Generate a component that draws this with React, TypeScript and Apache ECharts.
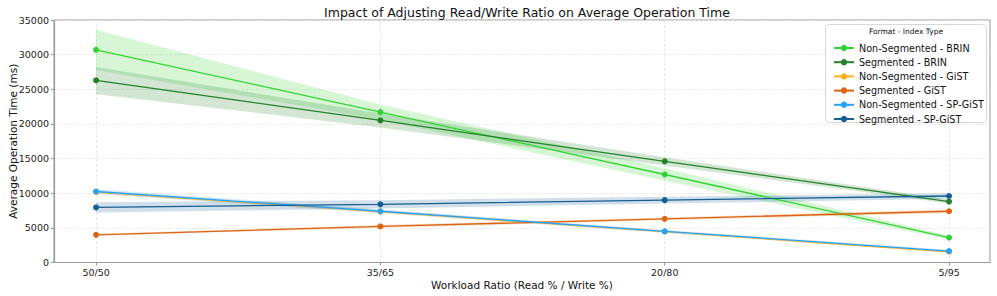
import React, { useEffect, useRef } from "react";
import * as echarts from "echarts";

const categories = ["50/50", "35/65", "20/80", "5/95"];
const seriesNames = [
  "Non-Segmented - BRIN",
  "Segmented - BRIN",
  "Non-Segmented - GiST",
  "Segmented - GiST",
  "Non-Segmented - SP-GiST",
  "Segmented - SP-GiST",
];
const colors = ["#33d233", "#22812a", "#ffb020", "#dd6410", "#25a3ff", "#155f95"];

const nsBrin = [30700, 21700, 12700, 3600];
const nsBrinLow = [27800, 20600, 11800, 3300];
const nsBrinHigh = [33600, 22800, 13600, 3900];

const sBrin = [26300, 20500, 14600, 8800];
const sBrinLow = [24300, 19500, 14000, 8500];
const sBrinHigh = [28200, 21500, 15200, 9100];

const nsGist = [10150, 7350, 4450, 1550];
const nsGistLow = [9900, 7100, 4250, 1400];
const nsGistHigh = [10400, 7600, 4650, 1700];

const sGist = [4000, 5200, 6300, 7400];
const sGistLow = [3850, 5000, 6100, 7150];
const sGistHigh = [4150, 5400, 6500, 7650];

const nsSp = [10250, 7400, 4500, 1650];
const nsSpLow = [9900, 7150, 4300, 1450];
const nsSpHigh = [10600, 7650, 4700, 1850];

const sSp = [7950, 8400, 9000, 9600];
const sSpLow = [7200, 7800, 8500, 9200];
const sSpHigh = [8700, 9000, 9500, 10000];

const values = [nsBrin, sBrin, nsGist, sGist, nsSp, sSp];
const lows = [nsBrinLow, sBrinLow, nsGistLow, sGistLow, nsSpLow, sSpLow];
const highs = [nsBrinHigh, sBrinHigh, nsGistHigh, sGistHigh, nsSpHigh, sSpHigh];

const yTicks = [0, 5000, 10000, 15000, 20000, 25000, 30000, 35000];

const FONT = "DejaVu Sans";

export default function App() {
  const ref = useRef<HTMLDivElement>(null);
  useEffect(() => {
    if (!ref.current) return;
    const chart = echarts.init(ref.current, undefined, { renderer: "svg" });
    const bandSeries: any[] = values.map((_, i) => {
      const data: number[][] = [];
      for (let j = 0; j < categories.length - 1; j++) {
        data.push([j, lows[i][j], highs[i][j], j + 1, lows[i][j + 1], highs[i][j + 1]]);
      }
      return {
        name: "band-" + i,
        type: "custom",
        silent: true,
        z: 1,
        encode: { x: [0, 3], y: [1, 2, 4, 5] },
        data,
        renderItem: (params: any, api: any) => {
          const x0 = api.value(0);
          const x1 = api.value(3);
          const a = api.coord([x0, api.value(1)]);
          const b = api.coord([x0, api.value(2)]);
          const c = api.coord([x1, api.value(5)]);
          const d = api.coord([x1, api.value(4)]);
          return {
            type: "polygon",
            shape: { points: [a, b, c, d] },
            style: { fill: colors[i], opacity: 0.2 },
          };
        },
      };
    });
    const lineSeries = values.map((vals, i) => ({
      name: seriesNames[i],
      type: "line",
      data: vals.map((v, j) => [j, v]),
      symbol: "circle",
      symbolSize: 6,
      itemStyle: { color: colors[i] },
      lineStyle: { color: colors[i], width: 1.3 },
      z: 3,
    }));

    chart.setOption({
      animation: false,
      backgroundColor: "#fff",
      title: {
        text: "Impact of Adjusting Read/Write Ratio on Average Operation Time",
        left: 522,
        textAlign: "center",
        top: 1,
        textStyle: { fontFamily: FONT, fontSize: 12.5, fontWeight: "normal", color: "#111" },
      },
      grid: {
        left: 54,
        right: 7,
        top: 20,
        bottom: 33.5,
        show: true,
        borderColor: "#999",
        borderWidth: 1,
        containLabel: false,
        outerBoundsMode: "none",
      },
      xAxis: {
        type: "value",
        min: -0.148,
        max: 3.144,
        name: "Workload Ratio (Read % / Write %)",
        nameLocation: "middle",
        nameGap: 17,
        nameMoveOverlap: false,
        nameTextStyle: { fontFamily: FONT, fontSize: 10.5, color: "#111" },
        axisLine: { onZero: false, lineStyle: { color: "#999", width: 1.2 } },
        axisTick: { show: true, customValues: [0, 1, 2, 3], length: 3, lineStyle: { color: "#999" } },
        axisLabel: {
          customValues: [0, 1, 2, 3],
          formatter: (v: number) => categories[Math.round(v)] ?? "",
          fontFamily: FONT,
          fontSize: 9.5,
          color: "#222",
          margin: 5,
        },
        splitLine: { show: true, lineStyle: { color: "#e6e6e6", type: "dashed", width: 0.8 } },
      },
      yAxis: {
        type: "value",
        min: 0,
        max: 35000,
        interval: 5000,
        name: "Average Operation Time (ms)",
        nameLocation: "middle",
        nameGap: 36,
        nameMoveOverlap: false,
        nameTextStyle: { fontFamily: FONT, fontSize: 10.5, color: "#111" },
        axisLine: { show: true, onZero: false, lineStyle: { color: "#999", width: 1.2 } },
        axisTick: { show: true, length: 3, lineStyle: { color: "#999" } },
        axisLabel: {
          formatter: (v: number) => (yTicks.includes(v) ? String(v) : ""),
          fontFamily: FONT,
          fontSize: 9.5,
          color: "#222",
          margin: 5,
        },
        splitLine: { show: true, lineStyle: { color: "#e6e6e6", type: "dashed", width: 0.8 } },
      },
      legend: {
        data: seriesNames,
        orient: "vertical",
        left: 828,
        top: 37,
        itemWidth: 20,
        itemHeight: 8,
        itemGap: 2.2,
        textStyle: { fontFamily: FONT, fontSize: 9.6, color: "#111", lineHeight: 12 },
      },
      graphic: [
        {
          type: "rect",
          shape: { x: 825.5, y: 24.5, width: 161, height: 98, r: 3 },
          style: { fill: "rgba(255,255,255,0.85)", stroke: "#d8d8d8", lineWidth: 1 },
          z: 2,
        },
        {
          type: "text",
          x: 906,
          y: 31,
          style: {
            text: "Format - Index Type",
            fontFamily: FONT,
            fontSize: 7.5,
            fill: "#111",
            align: "center",
            verticalAlign: "middle",
          },
          z: 3,
        },
      ],
      series: [...bandSeries, ...lineSeries],
    });
    return () => chart.dispose();
  }, []);
  return (
    <div
      ref={ref}
      style={{ position: "fixed", left: 0, top: 0, width: 997, height: 296 }}
    />
  );
}
